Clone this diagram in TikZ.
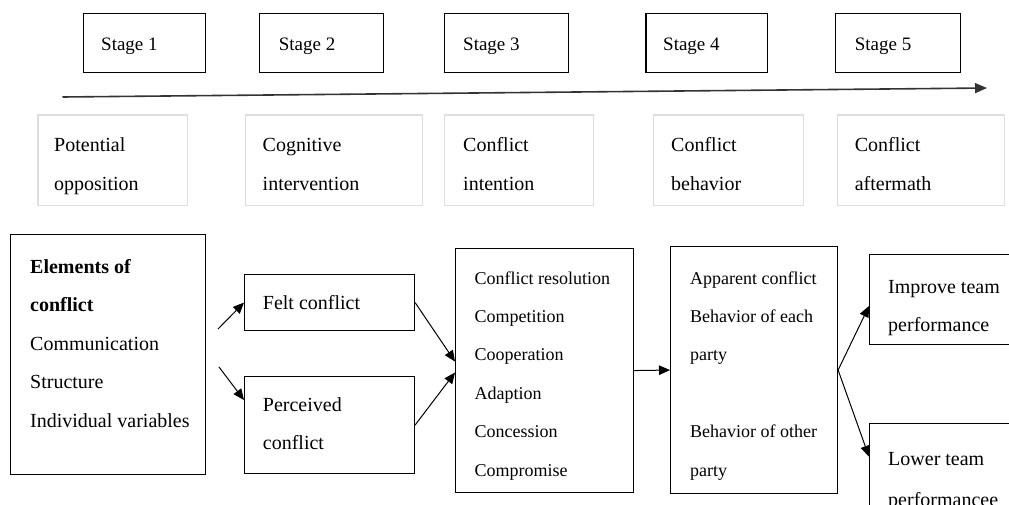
\documentclass[tikz,border=0pt]{standalone}
\usepackage{fontspec}
\setmainfont{Liberation Serif}
\usetikzlibrary{arrows.meta}
\definecolor{lightframe}{RGB}{222,222,222}
\begin{document}
\begin{tikzpicture}[x=1pt,y=-1pt,
  box/.style={draw=black,line width=1.1pt,inner sep=0pt,anchor=north west},
  gbox/.style={draw=lightframe,line width=1.2pt,inner sep=0pt,anchor=north west},
  txt/.style={inner sep=0pt,anchor=base west,align=left,font=\fontsize{20}{38.5}\selectfont},
  smalltxt/.style={txt,font=\fontsize{18}{38.4}\selectfont},
  stagetxt/.style={txt,font=\fontsize{19}{23}\selectfont},
  conn/.style={line width=1pt,-{Triangle[length=11pt,width=9.5pt]}},
  timeline/.style={line width=1.6pt,draw=black!80,-{Triangle[length=12pt,width=10pt]}}]
\path[use as bounding box,clip] (0,0) rectangle (1009,504);
\fill[white] (0,0) rectangle (1009,504);
% stage boxes
\node[box,minimum width=122pt,minimum height=58.5pt] (s1) at (82.5,13) {};
\node[box,minimum width=124pt,minimum height=58.5pt] (s2) at (259.3,13) {};
\node[box,minimum width=123.6pt,minimum height=58.5pt] (s3) at (444,13) {};
\node[box,minimum width=121.6pt,minimum height=58.5pt] (s4) at (645.4,13) {};
\node[box,minimum width=124.7pt,minimum height=58.5pt] (s5) at (835.3,13) {};
\node[stagetxt] (s1t) at (101,50) {Stage 1};
\node[stagetxt] (s2t) at (278.6,50) {Stage 2};
\node[stagetxt] (s3t) at (463,50) {Stage 3};
\node[stagetxt] (s4t) at (663,50) {Stage 4};
\node[stagetxt] (s5t) at (854.6,50) {Stage 5};
% timeline
\coordinate (tl0) at (62.5,97);
\coordinate (tl1) at (987,88);
\draw[timeline] (tl0) -- (tl1);
% grey stage description boxes
\node[gbox,minimum width=149.3pt,minimum height=90.7pt] (g1) at (37.3,114.3) {};
\node[gbox,minimum width=177pt,minimum height=90.7pt] (g2) at (244.5,114.3) {};
\node[gbox,minimum width=149pt,minimum height=90.7pt] (g3) at (444,114.3) {};
\node[gbox,minimum width=150pt,minimum height=90.7pt] (g4) at (653,114.3) {};
\node[gbox,minimum width=167.5pt,minimum height=90.7pt] (g5) at (836.5,114.3) {};
% (multi-line text nodes: base anchor = baseline of the last line)
\node[txt] (g1t) at (54,190) {Potential\\opposition};
\node[txt] (g2t) at (262.5,190) {Cognitive\\intervention};
\node[txt] (g3t) at (463,190) {Conflict\\intention};
\node[txt] (g4t) at (671,190) {Conflict\\behavior};
\node[txt] (g5t) at (854.6,190) {Conflict\\aftermath};
% lower flow
\node[box,minimum width=194.7pt,minimum height=240pt] (elem) at (10,234) {};
\node[txt] (elemt) at (30,427) {\textbf{Elements of}\\\textbf{conflict}\\Communication\\Structure\\Individual variables};
\node[box,minimum width=170pt,minimum height=56pt] (felt) at (244,274) {};
\node[txt] (feltt) at (262.7,309) {Felt conflict};
\node[box,minimum width=170pt,minimum height=97pt] (perc) at (244,376) {};
\node[txt,font=\fontsize{20}{37.5}\selectfont] (perct) at (262.7,449) {Perceived\\conflict};
\node[box,minimum width=178pt,minimum height=244pt] (conf) at (455,248) {};
\node[smalltxt] (conft) at (474.5,476) {Conflict resolution\\Competition\\Cooperation\\Adaption\\Concession\\Compromise};
\node[box,minimum width=167pt,minimum height=247pt] (app) at (670,246) {};
\node[smalltxt] (appt) at (690,476) {Apparent conflict\\Behavior of each\\party\\[38.4pt]Behavior of other\\party};
\node[box,minimum width=160pt,minimum height=90pt] (impr) at (869,254) {};
\node[txt,font=\fontsize{20}{38}\selectfont] (imprt) at (888,331) {Improve team\\performance};
\node[box,minimum width=160pt,minimum height=120pt] (lower) at (869,422.7) {};
\node[txt,font=\fontsize{20}{41}\selectfont] (lowert) at (888,506) {Lower team\\performancee};
% connectors
\coordinate (e1) at (218,329);
\coordinate (e2) at (219,367);
\draw[conn] (e1) -- (felt.west);
\draw[conn] (e2) -- ([yshift=-24pt]perc.north west);
\draw[conn] (felt.east) -- ([yshift=9pt]conf.west);
\draw[conn] (perc.east) -- ([yshift=-2pt]conf.west);
\draw[conn] (conf.east) -- (app.west);
\draw[conn] (app.east) -- ([yshift=-52pt]impr.north west);
\draw[conn] (app.east) -- ([yshift=-34pt]lower.north west);
\end{tikzpicture}
\end{document}
